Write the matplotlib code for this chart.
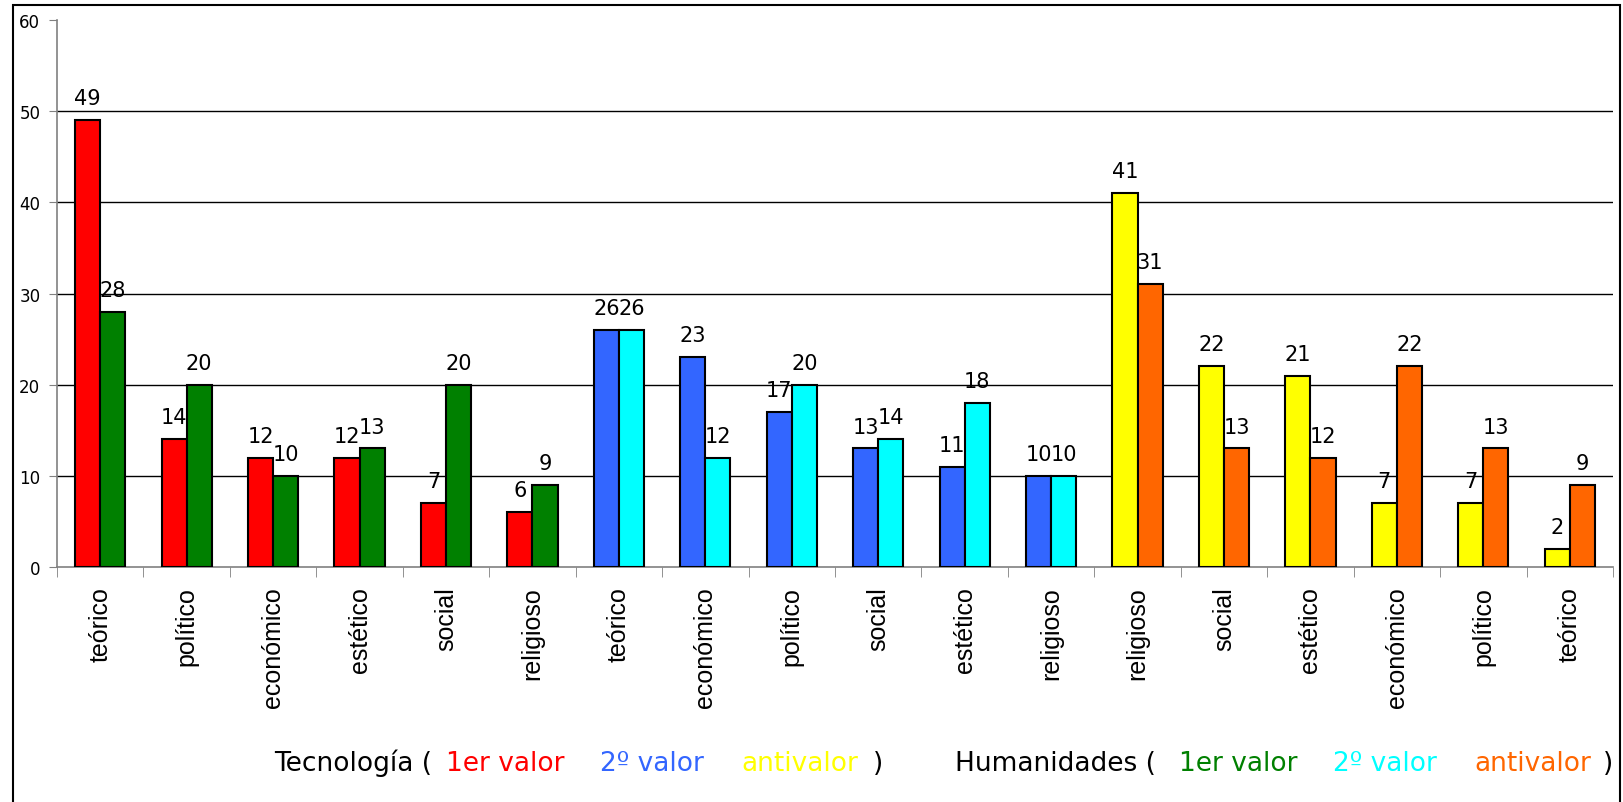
import matplotlib
matplotlib.use("Agg")
import matplotlib.pyplot as plt
import numpy as np
from matplotlib.patches import Rectangle

# datos
categorias = ["teórico", "político", "económico", "estético", "social", "religioso",
              "teórico", "económico", "político", "social", "estético", "religioso",
              "religioso", "social", "estético", "económico", "político", "teórico"]
primera = [49, 14, 12, 12, 7, 6, 26, 23, 17, 13, 11, 10, 41, 22, 21, 7, 7, 2]
segunda = [28, 20, 10, 13, 20, 9, 26, 12, 20, 14, 18, 10, 31, 13, 12, 22, 13, 9]
colores_primera = ["#FF0000"] * 6 + ["#3366FF"] * 6 + ["#FFFF00"] * 6
colores_segunda = ["#008000"] * 6 + ["#00FFFF"] * 6 + ["#FF6600"] * 6

W, H = 1623, 803
fig = plt.figure(figsize=(W / 100, H / 100), dpi=100)
ax = fig.add_axes([57 / W, 1 - 568 / H, (1613 - 57) / W, (568 - 21) / H])

x = np.arange(len(categorias))
bw = 0.29
b1 = ax.bar(x - bw / 2, primera, bw, color=colores_primera, edgecolor="black", linewidth=1.5, zorder=3)
b2 = ax.bar(x + bw / 2, segunda, bw, color=colores_segunda, edgecolor="black", linewidth=1.5, zorder=3)

# etiquetas de valor
for bars, vals in [(b1, primera), (b2, segunda)]:
    for b, v in zip(bars, vals):
        ax.annotate(str(v), (b.get_x() + b.get_width() / 2, v), xytext=(0, 11.5),
                    textcoords="offset points", ha="center", va="baseline", fontsize=15)

ax.set_xlim(-0.5, len(categorias) - 0.5)
ax.set_ylim(0, 60)
ax.set_yticks(range(0, 61, 10))
for yv in range(10, 60, 10):
    ax.axhline(yv, color="black", lw=1, zorder=1)

for s in ["top", "right"]:
    ax.spines[s].set_visible(False)
for s in ["left", "bottom"]:
    ax.spines[s].set_color("#808080")
    ax.spines[s].set_linewidth(1.2)

ax.tick_params(axis="y", direction="out", length=6, color="#808080", labelsize=12, pad=6)
ax.set_xticks(x)
ax.set_xticklabels(categorias, rotation=90, fontsize=18, family="Liberation Sans")
ax.tick_params(axis="x", which="major", length=0, pad=14)
ax.set_xticks(np.arange(len(categorias) + 1) - 0.5, minor=True)
ax.tick_params(axis="x", which="minor", direction="out", length=7, color="#808080")

# leyenda en texto
yb = 1 - 771 / H
partes = [
    (274, "Tecnología (", "black"),
    (446, "1er valor", "#FF0000"),
    (600, "2º valor", "#3366FF"),
    (741, "antivalor", "#FFFF00"),
    (873, ")", "black"),
    (955, "Humanidades (", "black"),
    (1179, "1er valor", "#008000"),
    (1333, "2º valor", "#00FFFF"),
    (1474, "antivalor", "#FF6600"),
    (1603, ")", "black"),
]
for px, txt, col in partes:
    fig.text(px / W, yb, txt, color=col, fontsize=19, va="baseline", ha="left")

# marco exterior
fig.add_artist(Rectangle((13 / W, -0.01), (1620 - 13) / W, 1 - 6 / H + 0.01,
                         transform=fig.transFigure, fill=False, edgecolor="black", lw=1.5))

fig.savefig("out.png", dpi=100)
